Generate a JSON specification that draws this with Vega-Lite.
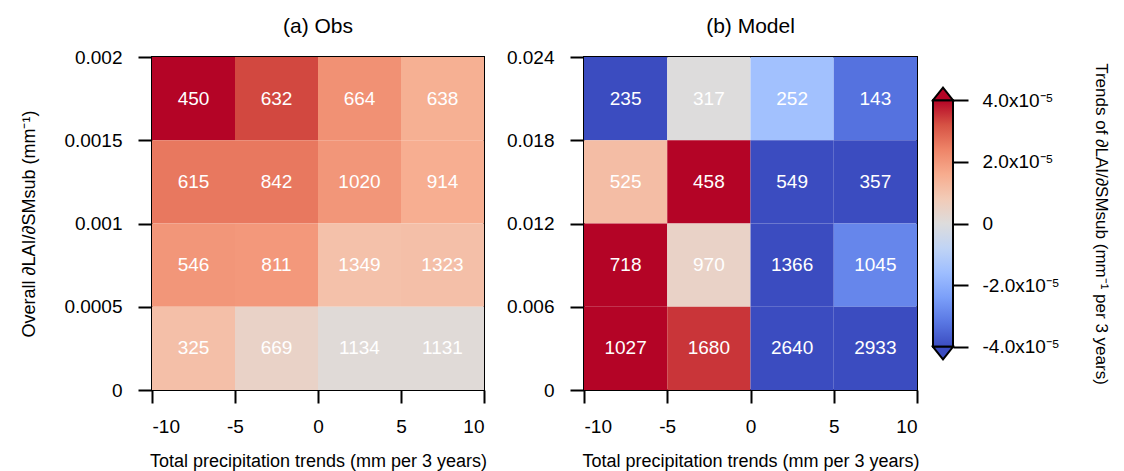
{
  "$schema": "https://vega.github.io/schema/vega-lite/v6.json",
  "background": "white",
  "padding": {"left": 19, "top": 15, "right": 4, "bottom": 0},
  "config": {
    "font": "Liberation Sans",
    "view": {"stroke": "black", "strokeWidth": 2},
    "axis": {"domain": false, "grid": false, "tickColor": "black", "tickWidth": 2, "tickSize": 14, "labelFont": "Liberation Sans", "labelFontSize": 19, "labelColor": "black", "labelPadding": 16, "titleFont": "Liberation Sans", "titleFontSize": 18, "titleFontWeight": "normal", "titleColor": "black", "titlePadding": 25},
    "axisX": {"tickSize": 13, "labelPadding": 14, "titlePadding": 16},
    "title": {"font": "Liberation Sans", "fontSize": 21, "fontWeight": "normal", "color": "black", "offset": 11, "anchor": "middle"}
  },
  "datasets": {
    "cells": [
      {"panel": "a", "p0": -10, "p1": -5, "pc": -7.5, "s0": 0.0015, "s1": 0.002, "sc": 0.00175, "trend": 4.2e-5, "n": "450"},
      {"panel": "a", "p0": -5, "p1": 0, "pc": -2.5, "s0": 0.0015, "s1": 0.002, "sc": 0.00175, "trend": 3.3e-5, "n": "632"},
      {"panel": "a", "p0": 0, "p1": 5, "pc": 2.5, "s0": 0.0015, "s1": 0.002, "sc": 0.00175, "trend": 2.15e-5, "n": "664"},
      {"panel": "a", "p0": 5, "p1": 10, "pc": 7.5, "s0": 0.0015, "s1": 0.002, "sc": 0.00175, "trend": 1.5e-5, "n": "638"},
      {"panel": "a", "p0": -10, "p1": -5, "pc": -7.5, "s0": 0.001, "s1": 0.0015, "sc": 0.00125, "trend": 2.6e-5, "n": "615"},
      {"panel": "a", "p0": -5, "p1": 0, "pc": -2.5, "s0": 0.001, "s1": 0.0015, "sc": 0.00125, "trend": 2.6e-5, "n": "842"},
      {"panel": "a", "p0": 0, "p1": 5, "pc": 2.5, "s0": 0.001, "s1": 0.0015, "sc": 0.00125, "trend": 2.05e-5, "n": "1020"},
      {"panel": "a", "p0": 5, "p1": 10, "pc": 7.5, "s0": 0.001, "s1": 0.0015, "sc": 0.00125, "trend": 1.55e-5, "n": "914"},
      {"panel": "a", "p0": -10, "p1": -5, "pc": -7.5, "s0": 0.0005, "s1": 0.001, "sc": 0.00075, "trend": 2.05e-5, "n": "546"},
      {"panel": "a", "p0": -5, "p1": 0, "pc": -2.5, "s0": 0.0005, "s1": 0.001, "sc": 0.00075, "trend": 2.0e-5, "n": "811"},
      {"panel": "a", "p0": 0, "p1": 5, "pc": 2.5, "s0": 0.0005, "s1": 0.001, "sc": 0.00075, "trend": 1.05e-5, "n": "1349"},
      {"panel": "a", "p0": 5, "p1": 10, "pc": 7.5, "s0": 0.0005, "s1": 0.001, "sc": 0.00075, "trend": 1.1e-5, "n": "1323"},
      {"panel": "a", "p0": -10, "p1": -5, "pc": -7.5, "s0": 0, "s1": 0.0005, "sc": 0.00025, "trend": 1.1e-5, "n": "325"},
      {"panel": "a", "p0": -5, "p1": 0, "pc": -2.5, "s0": 0, "s1": 0.0005, "sc": 0.00025, "trend": 0.45e-5, "n": "669"},
      {"panel": "a", "p0": 0, "p1": 5, "pc": 2.5, "s0": 0, "s1": 0.0005, "sc": 0.00025, "trend": 0.1e-5, "n": "1134"},
      {"panel": "a", "p0": 5, "p1": 10, "pc": 7.5, "s0": 0, "s1": 0.0005, "sc": 0.00025, "trend": 0.1e-5, "n": "1131"},
      {"panel": "b", "p0": -10, "p1": -5, "pc": -7.5, "s0": 0.018, "s1": 0.024, "sc": 0.021, "trend": -4.3e-5, "n": "235"},
      {"panel": "b", "p0": -5, "p1": 0, "pc": -2.5, "s0": 0.018, "s1": 0.024, "sc": 0.021, "trend": 0, "n": "317"},
      {"panel": "b", "p0": 0, "p1": 5, "pc": 2.5, "s0": 0.018, "s1": 0.024, "sc": 0.021, "trend": -1.5e-5, "n": "252"},
      {"panel": "b", "p0": 5, "p1": 10, "pc": 7.5, "s0": 0.018, "s1": 0.024, "sc": 0.021, "trend": -3.3e-5, "n": "143"},
      {"panel": "b", "p0": -10, "p1": -5, "pc": -7.5, "s0": 0.012, "s1": 0.018, "sc": 0.015, "trend": 1.15e-5, "n": "525"},
      {"panel": "b", "p0": -5, "p1": 0, "pc": -2.5, "s0": 0.012, "s1": 0.018, "sc": 0.015, "trend": 4.3e-5, "n": "458"},
      {"panel": "b", "p0": 0, "p1": 5, "pc": 2.5, "s0": 0.012, "s1": 0.018, "sc": 0.015, "trend": -4.3e-5, "n": "549"},
      {"panel": "b", "p0": 5, "p1": 10, "pc": 7.5, "s0": 0.012, "s1": 0.018, "sc": 0.015, "trend": -4.1e-5, "n": "357"},
      {"panel": "b", "p0": -10, "p1": -5, "pc": -7.5, "s0": 0.006, "s1": 0.012, "sc": 0.009, "trend": 4.3e-5, "n": "718"},
      {"panel": "b", "p0": -5, "p1": 0, "pc": -2.5, "s0": 0.006, "s1": 0.012, "sc": 0.009, "trend": 0.45e-5, "n": "970"},
      {"panel": "b", "p0": 0, "p1": 5, "pc": 2.5, "s0": 0.006, "s1": 0.012, "sc": 0.009, "trend": -4.3e-5, "n": "1366"},
      {"panel": "b", "p0": 5, "p1": 10, "pc": 7.5, "s0": 0.006, "s1": 0.012, "sc": 0.009, "trend": -2.9e-5, "n": "1045"},
      {"panel": "b", "p0": -10, "p1": -5, "pc": -7.5, "s0": 0, "s1": 0.006, "sc": 0.003, "trend": 4.3e-5, "n": "1027"},
      {"panel": "b", "p0": -5, "p1": 0, "pc": -2.5, "s0": 0, "s1": 0.006, "sc": 0.003, "trend": 3.5e-5, "n": "1680"},
      {"panel": "b", "p0": 0, "p1": 5, "pc": 2.5, "s0": 0, "s1": 0.006, "sc": 0.003, "trend": -4.3e-5, "n": "2640"},
      {"panel": "b", "p0": 5, "p1": 10, "pc": 7.5, "s0": 0, "s1": 0.006, "sc": 0.003, "trend": -4.2e-5, "n": "2933"}
    ],
    "cbar": [{"a0": 0, "a1": 1, "v0": -4e-5, "v1": 4e-5}],
    "tri": [{"a": 0.5, "v": 4e-5, "end": "max"}, {"a": 0.5, "v": -4e-5, "end": "min"}]
  },
  "spacing": 100,
  "bounds": "flush",
  "hconcat": [
    {
      "width": 332,
      "height": 333,
      "title": "(a) Obs",
      "data": {"name": "cells"},
      "transform": [{"filter": "datum.panel == 'a'"}],
      "layer": [
        {
          "mark": {"type": "rect"},
          "encoding": {
            "x": {"field": "p0", "type": "quantitative", "scale": {"domain": [-10, 10], "nice": false}, "axis": {"values": [-10, -5, 0, 5, 10], "labelExpr": "datum.value + ''", "title": "Total precipitation trends (mm per 3 years)"}},
            "x2": {"field": "p1"},
            "y": {"field": "s0", "type": "quantitative", "scale": {"domain": [0, 0.002], "nice": false}, "axis": {"values": [0, 0.0005, 0.001, 0.0015, 0.002], "format": "~g", "title": "Overall ∂LAI/∂SMsub (mm⁻¹)"}},
            "y2": {"field": "s1"},
            "color": {"field": "trend", "type": "quantitative", "legend": null, "scale": {"domain": [-4e-5, -3.2e-5, -2.4e-5, -1.6e-5, -0.8e-5, 0, 0.8e-5, 1.6e-5, 2.4e-5, 3.2e-5, 4e-5], "range": ["#3b4cc0", "#5977e3", "#7b9ff9", "#9ebeff", "#c0d4f5", "#dddcdc", "#f2cbb7", "#f7ac8e", "#ee8468", "#d65244", "#b40426"], "clamp": true, "interpolate": "rgb"}}
          }
        },
        {
          "mark": {"type": "text", "color": "white", "fontSize": 19, "font": "Liberation Sans"},
          "encoding": {
            "x": {"field": "pc", "type": "quantitative"},
            "y": {"field": "sc", "type": "quantitative"},
            "text": {"field": "n", "type": "nominal"}
          }
        }
      ]
    },
    {
      "spacing": 16,
      "bounds": "flush",
      "hconcat": [
        {
          "width": 333,
          "height": 333,
          "title": "(b) Model",
          "data": {"name": "cells"},
          "transform": [{"filter": "datum.panel == 'b'"}],
          "layer": [
            {
              "mark": {"type": "rect"},
              "encoding": {
                "x": {"field": "p0", "type": "quantitative", "scale": {"domain": [-10, 10], "nice": false}, "axis": {"values": [-10, -5, 0, 5, 10], "labelExpr": "datum.value + ''", "title": "Total precipitation trends (mm per 3 years)"}},
                "x2": {"field": "p1"},
                "y": {"field": "s0", "type": "quantitative", "scale": {"domain": [0, 0.024], "nice": false}, "axis": {"values": [0, 0.006, 0.012, 0.018, 0.024], "format": "~g", "title": null}},
                "y2": {"field": "s1"},
                "color": {"field": "trend", "type": "quantitative", "legend": null, "scale": {"domain": [-4e-5, -3.2e-5, -2.4e-5, -1.6e-5, -0.8e-5, 0, 0.8e-5, 1.6e-5, 2.4e-5, 3.2e-5, 4e-5], "range": ["#3b4cc0", "#5977e3", "#7b9ff9", "#9ebeff", "#c0d4f5", "#dddcdc", "#f2cbb7", "#f7ac8e", "#ee8468", "#d65244", "#b40426"], "clamp": true, "interpolate": "rgb"}}
              }
            },
            {
              "mark": {"type": "text", "color": "white", "fontSize": 19, "font": "Liberation Sans"},
              "encoding": {
                "x": {"field": "pc", "type": "quantitative"},
                "y": {"field": "sc", "type": "quantitative"},
                "text": {"field": "n", "type": "nominal"}
              }
            }
          ]
        },
        {
          "width": 20,
          "height": 333,
          "view": {"stroke": null},
          "layer": [
            {
              "data": {"name": "cbar"},
              "mark": {"type": "rect", "stroke": "black", "strokeWidth": 2, "fill": {"gradient": "linear", "x1": 0, "y1": 1, "x2": 0, "y2": 0, "stops": [{"offset": 0, "color": "#3b4cc0"}, {"offset": 0.1, "color": "#5977e3"}, {"offset": 0.2, "color": "#7b9ff9"}, {"offset": 0.3, "color": "#9ebeff"}, {"offset": 0.4, "color": "#c0d4f5"}, {"offset": 0.5, "color": "#dddcdc"}, {"offset": 0.6, "color": "#f2cbb7"}, {"offset": 0.7, "color": "#f7ac8e"}, {"offset": 0.8, "color": "#ee8468"}, {"offset": 0.9, "color": "#d65244"}, {"offset": 1, "color": "#b40426"}]}},
              "encoding": {
                "x": {"field": "a0", "type": "quantitative", "scale": {"domain": [0, 1], "nice": false}, "axis": null},
                "x2": {"field": "a1"},
                "y": {"field": "v0", "type": "quantitative", "scale": {"domain": [-5.4e-5, 5.4e-5], "nice": false, "zero": false}, "axis": {"orient": "right", "values": [-4e-5, -2e-5, 0, 2e-5, 4e-5], "tickSize": 15, "labelPadding": 14, "labelExpr": "datum.value == 0 ? '0' : (datum.value < 0 ? '-' : '') + format(abs(datum.value) * 1e5, '.1f') + 'x10⁻⁵'", "title": "Trends of ∂LAI/∂SMsub (mm⁻¹ per 3 years)", "titleFontSize": 17, "titlePadding": 32}},
                "y2": {"field": "v1"}
              }
            },
            {
              "data": {"name": "tri"},
              "transform": [{"filter": "datum.end == 'max'"}],
              "mark": {"type": "point", "filled": true, "fill": "#b40426", "stroke": "black", "strokeWidth": 2, "opacity": 1, "size": 400, "shape": "M-1,0L0,-1.25L1,0Z"},
              "encoding": {
                "x": {"field": "a", "type": "quantitative"},
                "y": {"field": "v", "type": "quantitative"}
              }
            },
            {
              "data": {"name": "tri"},
              "transform": [{"filter": "datum.end == 'min'"}],
              "mark": {"type": "point", "filled": true, "fill": "#3b4cc0", "stroke": "black", "strokeWidth": 2, "opacity": 1, "size": 400, "shape": "M-1,0L0,1.25L1,0Z"},
              "encoding": {
                "x": {"field": "a", "type": "quantitative"},
                "y": {"field": "v", "type": "quantitative"}
              }
            }
          ]
        }
      ]
    }
  ]
}
